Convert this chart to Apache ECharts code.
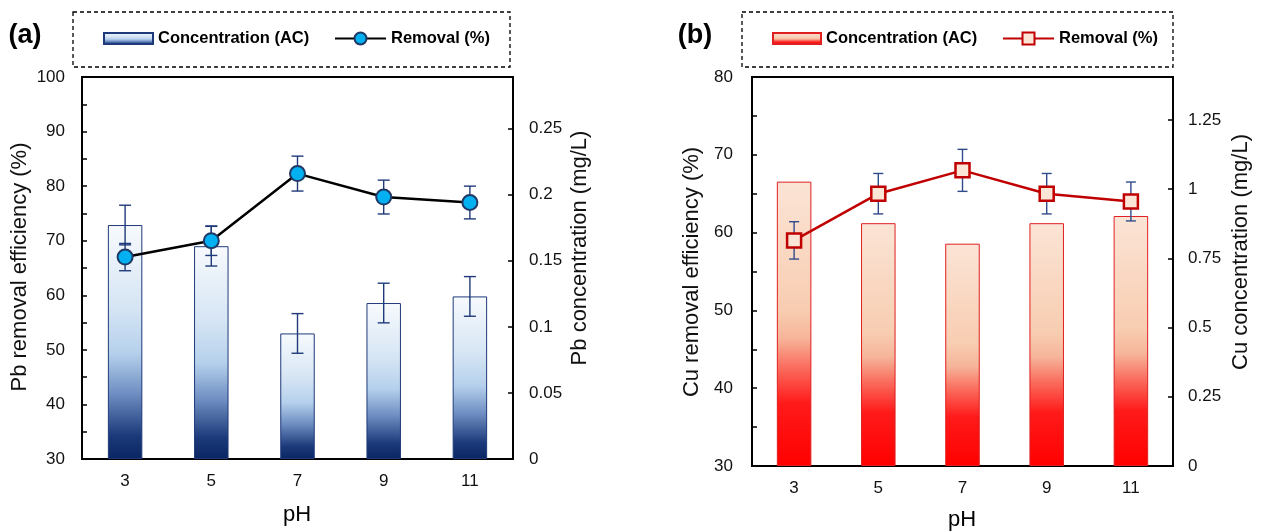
<!DOCTYPE html>
<html>
<head>
<meta charset="utf-8">
<script src="https://cdn.jsdelivr.net/npm/echarts@6/dist/echarts.min.js"></script>
<style>
html,body{margin:0;padding:0;background:#fff;}
#c{width:1263px;height:532px;}
</style>
</head>
<body>
<div id="c"></div>
<script>
// ---- data ----
const pH = ['3', '5', '7', '9', '11'];
const pbConc = [0.177, 0.161, 0.095, 0.118, 0.123];
const pbConcErr = [0.015, 0.015, 0.015, 0.015, 0.015];
const pbRemoval = [67.0, 70.0, 82.3, 78.0, 77.0];
const pbRemovalErr = [2.5, 2.7, 3.2, 3.1, 3.0];
const cuConc = [1.027, 0.877, 0.803, 0.877, 0.903];
const cuRemoval = [59.0, 65.0, 68.0, 65.0, 64.0];
const cuRemovalErr = [2.4, 2.6, 2.7, 2.6, 2.5];

const FONT = '"Liberation Sans", Arial, sans-serif';
const chart = echarts.init(document.getElementById('c'));

const blueGrad = new echarts.graphic.LinearGradient(0, 0, 0, 1, [
  {offset: 0, color: '#F7FAFD'},
  {offset: 0.35, color: '#D6E5F4'},
  {offset: 0.55, color: '#B5D0EC'},
  {offset: 0.72, color: '#6F8EC2'},
  {offset: 0.9, color: '#1C3A7A'},
  {offset: 1, color: '#0A2562'}
]);
const redGrad = new echarts.graphic.LinearGradient(0, 0, 0, 1, [
  {offset: 0, color: '#FBE4D6'},
  {offset: 0.45, color: '#F8CDB1'},
  {offset: 0.55, color: '#F6B59A'},
  {offset: 0.65, color: '#FA6F60'},
  {offset: 0.78, color: '#FF1A1A'},
  {offset: 1, color: '#FF0000'}
]);

function errRender(color, cap) {
  return function (params, api) {
    const x = api.value(0), y = api.value(1), e = api.value(2);
    const hi = api.coord([x, y + e]);
    const lo = api.coord([x, y - e]);
    const style = {stroke: color, lineWidth: 1.4};
    return {
      type: 'group',
      children: [
        {type: 'line', shape: {x1: hi[0], y1: hi[1], x2: lo[0], y2: lo[1]}, style: style},
        {type: 'line', shape: {x1: hi[0] - cap, y1: hi[1], x2: hi[0] + cap, y2: hi[1]}, style: style},
        {type: 'line', shape: {x1: lo[0] - cap, y1: lo[1], x2: lo[0] + cap, y2: lo[1]}, style: style}
      ]
    };
  };
}
function errData(vals, errs) { return vals.map((v, i) => [i, v, errs[i]]); }

const axisLabelStyle = {color: '#111', fontSize: 17, fontFamily: FONT};
function yAx(gi, pos, min, max, interval, fmt, margin) {
  return {
    type: 'value', gridIndex: gi, position: pos, min: min, max: max, interval: interval,
    axisLine: {show: false},
    axisTick: {show: true, inside: true, length: 5, lineStyle: {color: '#000', width: 1.5}},
    splitLine: {show: false},
    axisLabel: Object.assign({margin: margin, showMaxLabel: fmt ? true : false, formatter: fmt}, axisLabelStyle)
  };
}
function xAx(gi) {
  return {
    type: 'category', gridIndex: gi, data: pH,
    axisLine: {show: false}, axisTick: {show: false},
    axisLabel: Object.assign({margin: 14}, axisLabelStyle)
  };
}
const tenFmt = v => (Math.round(v) % 10 === 0 ? String(Math.round(v)) : '');

function legendItem(name, left, w, h) {
  return {
    data: [{name: name, icon: name.indexOf('Conc') === 0 ? 'rect' : undefined}],
    left: left, top: 30, padding: 0, itemWidth: w, itemHeight: h, selectedMode: false,
    textStyle: {fontFamily: FONT, fontWeight: 'bold', fontSize: 16.5, color: '#000'}
  };
}

function vText(text, x, y) {
  return {
    type: 'text', x: x, y: y, rotation: Math.PI / 2,
    style: {text: text, font: '22px ' + FONT, fill: '#111', textAlign: 'center', textVerticalAlign: 'middle', align: 'center', verticalAlign: 'middle'}
  };
}
function hText(text, x, y, font) {
  return {
    type: 'text', x: x, y: y,
    style: {text: text, font: font, fill: '#000', textAlign: 'center', textVerticalAlign: 'middle', align: 'center', verticalAlign: 'middle'}
  };
}
function dashBox(x, y, w, h) {
  return {type: 'rect', shape: {x: x, y: y, width: w, height: h}, style: {fill: 'none', stroke: '#000', lineWidth: 1.3, lineDash: [4, 3]}};
}

const option = {
  animation: false,
  grid: [
    {left: 82, top: 77, width: 431, height: 382, show: true, borderColor: '#000', borderWidth: 2, backgroundColor: 'transparent'},
    {left: 752, top: 77, width: 421, height: 389, show: true, borderColor: '#000', borderWidth: 2, backgroundColor: 'transparent'}
  ],
  xAxis: [xAx(0), xAx(1)],
  yAxis: [
    yAx(0, 'left', 30, 100, 5, tenFmt, 17),
    yAx(0, 'right', 0, 0.289, 0.05, null, 16),
    yAx(1, 'left', 30, 80, 5, tenFmt, 19),
    yAx(1, 'right', 0, 1.405, 0.25, null, 15)
  ],
  legend: [
    legendItem('Concentration (AC)', 103, 49, 11),
    legendItem('Removal (%)', 334, 51, 15),
    legendItem('Concentration (AC) ', 772, 48, 11),
    legendItem('Removal (%) ', 1002, 51, 15)
  ],
  series: [
    {
      name: 'Concentration (AC)', type: 'bar', xAxisIndex: 0, yAxisIndex: 1, data: pbConc, barWidth: '40%', z: 2,
      itemStyle: {color: blueGrad, borderColor: '#1F3A7A', borderWidth: 1}
    },
    {
      type: 'custom', xAxisIndex: 0, yAxisIndex: 1, data: errData(pbConc, pbConcErr), z: 3,
      renderItem: errRender('#1F3A7A', 6), encode: {x: 0, y: 1}
    },
    {
      type: 'custom', xAxisIndex: 0, yAxisIndex: 0, data: errData(pbRemoval, pbRemovalErr), z: 4,
      renderItem: errRender('#1F3A7A', 6), encode: {x: 0, y: 1}
    },
    {
      name: 'Removal (%)', type: 'line', xAxisIndex: 0, yAxisIndex: 0, data: pbRemoval, z: 5,
      symbol: 'circle', symbolSize: 15,
      lineStyle: {color: '#000', width: 2.5},
      itemStyle: {color: '#00B0F0', borderColor: '#1F3864', borderWidth: 2}
    },
    {
      name: 'Concentration (AC) ', type: 'bar', xAxisIndex: 1, yAxisIndex: 3, data: cuConc, barWidth: '41%', z: 2,
      itemStyle: {color: redGrad, borderColor: '#E02020', borderWidth: 1}
    },
    {
      type: 'custom', xAxisIndex: 1, yAxisIndex: 2, data: errData(cuRemoval, cuRemovalErr), z: 4,
      renderItem: errRender('#2F4B8A', 5), encode: {x: 0, y: 1}
    },
    {
      name: 'Removal (%) ', type: 'line', xAxisIndex: 1, yAxisIndex: 2, data: cuRemoval, z: 5,
      symbol: 'rect', symbolSize: 14,
      lineStyle: {color: '#C00000', width: 2.5},
      itemStyle: {color: '#FBE5D6', borderColor: '#C00000', borderWidth: 2.5}
    }
  ],
  graphic: [
    dashBox(73, 12, 437, 55),
    dashBox(742, 12, 431, 55),
    hText('(a)', 25, 36, 'bold 27px ' + FONT),
    hText('(b)', 695, 36, 'bold 27px ' + FONT),
    vText('Pb removal efficiency (%)', 20, 267),
    vText('Pb concentration (mg/L)', 580, 248),
    vText('Cu removal efficiency (%)', 692, 272),
    vText('Cu concentration (mg/L)', 1241, 252),
    hText('pH', 297, 515, '22px ' + FONT),
    hText('pH', 962, 520, '22px ' + FONT)
  ]
};
chart.setOption(option);
</script>
</body>
</html>
